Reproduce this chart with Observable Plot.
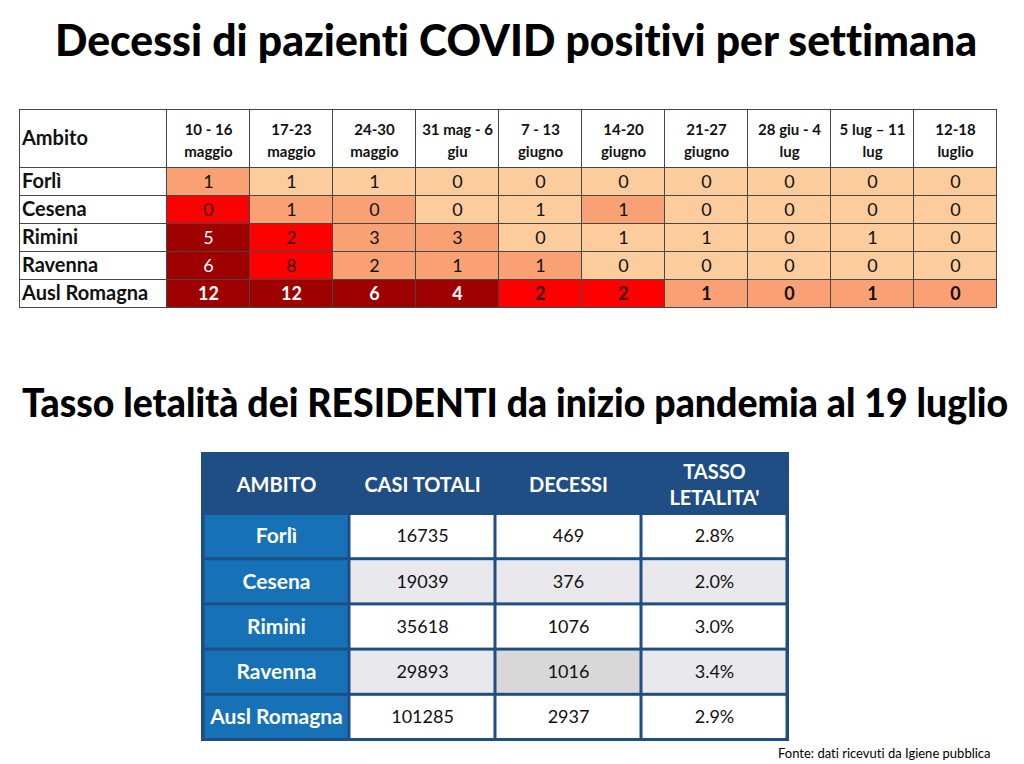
<!DOCTYPE html>
<html><head><meta charset="utf-8">
<script src="https://cdn.jsdelivr.net/npm/d3@7"></script>
<script src="https://cdn.jsdelivr.net/npm/@observablehq/plot@0.6"></script>
<style>
html,body{margin:0;padding:0;background:#fff;}
#page{position:relative;width:1024px;height:764px;overflow:hidden;background:#fff;font-family:Lato,sans-serif;font-variant-ligatures:none;}
.title{position:absolute;white-space:nowrap;font-weight:900;line-height:1;transform-origin:0 0;color:#000;font-variant-ligatures:none;}
#t1{left:55px;top:17px;font-size:44px;}
#t2{left:22px;top:382px;font-size:40px;}
#table1{position:absolute;left:19px;top:109px;}
#table2{position:absolute;left:201px;top:452px;}
#foot{position:absolute;left:778px;top:745px;font-size:13px;white-space:nowrap;color:#000;}
svg text{font-variant-ligatures:none;}
</style></head>
<body><div id="page">
<div class="title" id="t1">Decessi di pazienti COVID positivi per settimana</div>
<div id="table1"></div>
<div class="title" id="t2">Tasso letalità dei RESIDENTI da inizio pandemia al 19 luglio</div>
<div id="table2"></div>
<div id="foot">Fonte: dati ricevuti da Igiene pubblica</div>
</div>
<script>
// ---- Data: weekly deaths ----
const weeks = ["10 - 16\nmaggio","17-23\nmaggio","24-30\nmaggio","31 mag - 6\ngiu","7 - 13\ngiugno","14-20\ngiugno","21-27\ngiugno","28 giu - 4\nlug","5 lug – 11\nlug","12-18\nluglio"];
const ambiti = ["Forlì","Cesena","Rimini","Ravenna","Ausl Romagna"];
const forli       = [1,1,1,0,0,0,0,0,0,0];
const cesena      = [0,1,0,0,1,1,0,0,0,0];
const rimini      = [5,2,3,3,0,1,1,0,1,0];
const ravenna     = [6,8,2,1,1,0,0,0,0,0];
const auslRomagna = [12,12,6,4,2,2,1,0,1,0];
// conditional-format level of each cell (0 light … 3 dark)
const heatLevels = [
  [1,0,0,0,0,0,0,0,0,0],
  [2,1,1,0,0,1,0,0,0,0],
  [3,2,1,1,0,0,0,0,0,0],
  [3,2,1,1,1,0,0,0,0,0],
  [3,3,3,3,2,2,1,1,1,1]
];
const heatColors = ["#fccc9c","#f9a174","#ff0000","#9e0000"];

// ---- Data: lethality table ----
const columns2 = ["AMBITO","CASI TOTALI","DECESSI","TASSO\nLETALITA'"];
const casiTotali = [16735,19039,35618,29893,101285];
const decessi = [469,376,1076,1016,2937];
const tassoLetalita = [2.8,2.0,3.0,3.4,2.9];

const FONT = "Lato, sans-serif";

// ---- Table 1 ----
const rows1 = [forli, cesena, rimini, ravenna, auslRomagna];
const body1 = [];
rows1.forEach((vals, r) => vals.forEach((v, c) => body1.push({row: r + 1, col: c + 1, value: v, level: heatLevels[r][c]})));
const head1 = [{row: 0, col: 0, label: "Ambito"}].concat(weeks.map((w, c) => ({row: 0, col: c + 1, label: w})));
const side1 = ambiti.map((a, r) => ({row: r + 1, col: 0, label: a}));

function valueText(filter, fill, bold) {
  return Plot.text(body1, {
    filter, x: d => d.col + 0.5, y: d => d.row + 0.5, text: d => String(d.value),
    fill, fontSize: 18, fontWeight: bold ? "bold" : "normal"
  });
}

const chart1 = Plot.plot({
  width: 979, height: 200,
  x: {type: "linear", domain: [0, 1, 11], range: [0.5, 147.5, 977.5], axis: null},
  y: {type: "linear", domain: [0, 1, 6], range: [0.5, 58.5, 198.5], axis: null},
  color: {type: "ordinal", domain: [0, 1, 2, 3], range: heatColors},
  style: {fontFamily: FONT, background: "transparent", overflow: "visible"},
  marks: [
    Plot.rect(head1.concat(side1), {x1: "col", x2: d => d.col + 1, y1: "row", y2: d => d.row + 1, fill: "white", stroke: "#474747", strokeWidth: 1}),
    Plot.rect(body1, {x1: "col", x2: d => d.col + 1, y1: "row", y2: d => d.row + 1, fill: "level", stroke: "#474747", strokeWidth: 1}),
    Plot.text(head1.filter(d => d.col > 0), {x: d => d.col + 0.5, y: 0.5, text: "label", fontSize: 15, fontWeight: "bold", lineHeight: 1.45, fill: "#111"}),
    Plot.text(head1.filter(d => d.col === 0), {x: 0, y: 0.5, dx: 2, text: "label", textAnchor: "start", fontSize: 20, fontWeight: "bold", fill: "#111"}),
    Plot.text(side1, {x: 0, y: d => d.row + 0.5, dx: 2, text: "label", textAnchor: "start", fontSize: 20, fontWeight: "bold", fill: "#111"}),
    valueText(d => d.row < 5 && d.level < 2, "#111", false),
    valueText(d => d.row < 5 && d.level === 2, "#3a0000", false),
    valueText(d => d.row < 5 && d.level === 3, "white", false),
    valueText(d => d.row === 5 && d.level < 2, "#111", true),
    valueText(d => d.row === 5 && d.level === 2, "#3a0000", true),
    valueText(d => d.row === 5 && d.level === 3, "white", true)
  ]
});
document.getElementById("table1").appendChild(chart1);

// ---- Table 2 ----
const cells2 = [];
ambiti.forEach((a, i) => {
  const vals = [a, String(casiTotali[i]), String(decessi[i]), tassoLetalita[i].toFixed(1) + "%"];
  columns2.forEach((c, j) => cells2.push({row: i + 1, col: c, j, text: vals[j]}));
});
const head2 = columns2.map(c => ({row: 0, col: c}));
const NAVY = "#1f4e85", BLUE = "#1671b7";
function fill2(d) {
  if (d.j === 0) return BLUE;
  if (d.row === 4 && d.j === 2) return "#d8d8d8";
  return (d.row === 2 || d.row === 4) ? "#e8e8ed" : "#ffffff";
}
const chart2 = Plot.plot({
  width: 588, height: 289,
  x: {type: "band", domain: columns2, range: [1.5, 586.5], padding: 0, axis: null},
  y: {type: "linear", domain: [0, 1, 6], range: [0, 61.5, 287.5], axis: null},
  style: {fontFamily: FONT, background: NAVY},
  marks: [
    Plot.barY(cells2, {x: "col", y1: "row", y2: d => d.row + 1, fill: fill2, inset: 1.5}),
    Plot.text(head2, {x: "col", y: 0.5, text: "col", fill: "white", fontSize: 20, fontWeight: "bold", lineHeight: 1.3}),
    Plot.text(cells2.filter(d => d.j === 0), {x: "col", y: d => d.row + 0.5, text: "text", fill: "white", fontSize: 21, fontWeight: "bold"}),
    Plot.text(cells2.filter(d => d.j > 0), {x: "col", y: d => d.row + 0.5, text: "text", fill: "#111", fontSize: 18})
  ]
});
document.getElementById("table2").appendChild(chart2);

// ---- fit titles to the reference widths ----
function fit(id, target) {
  const el = document.getElementById(id);
  el.style.transform = "none";
  const w = el.getBoundingClientRect().width;
  el.style.transform = `scaleX(${target / w})`;
}
function fitAll() { fit("t1", 922); fit("t2", 986); }
fitAll();
if (document.fonts && document.fonts.ready) document.fonts.ready.then(fitAll);
</script>
</body></html>
